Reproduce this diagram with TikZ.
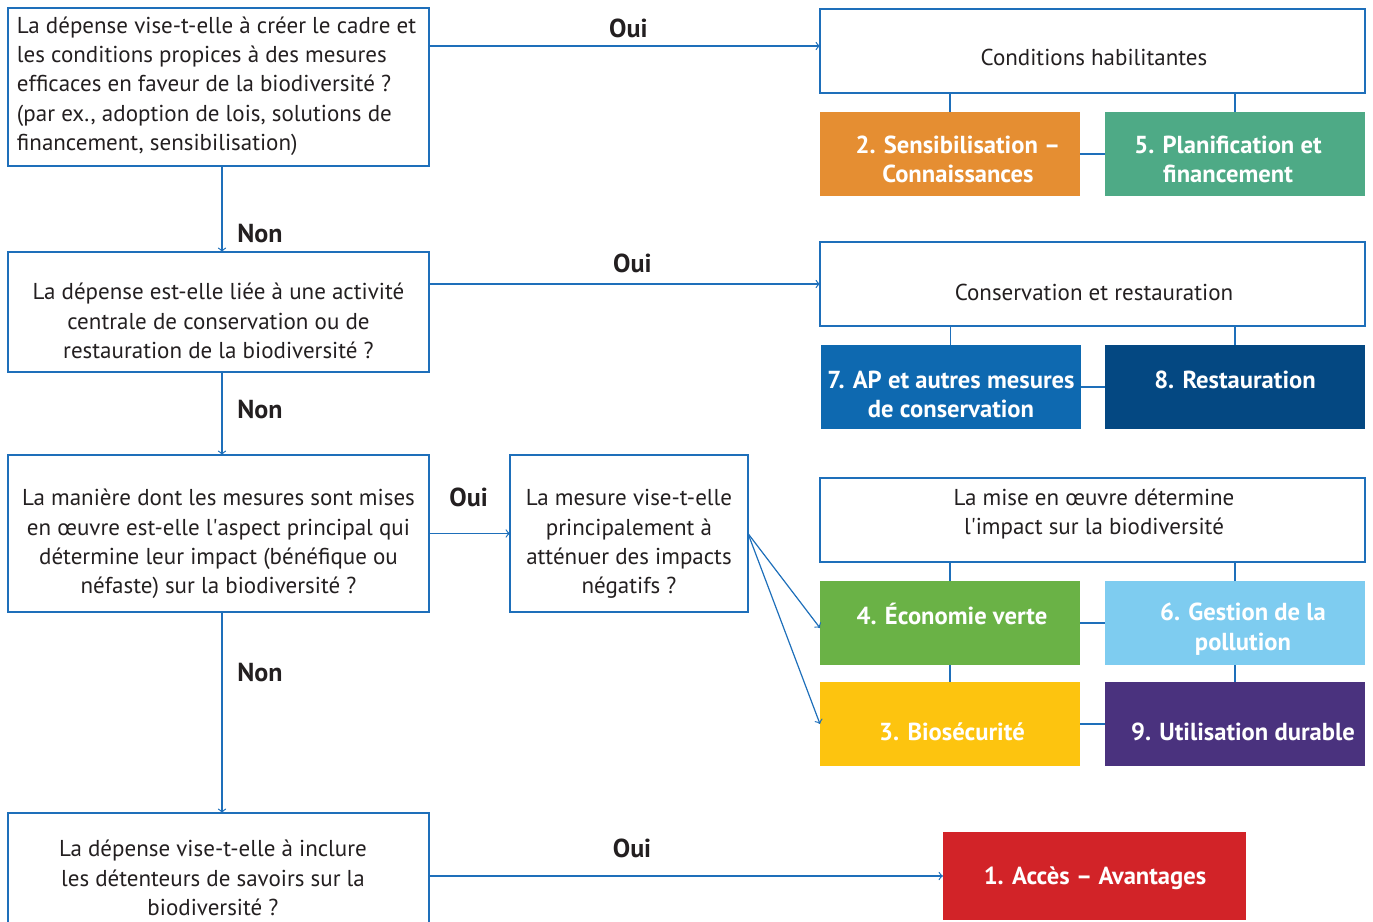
\documentclass[tikz,border=0pt]{standalone}
\usepackage{fontspec}
\setmainfont{PT Sans}
\usetikzlibrary{positioning}

\definecolor{lineblue}{HTML}{1E6FBA}
\definecolor{txtgray}{HTML}{231F20}
\definecolor{corange}{HTML}{E58E32}
\definecolor{cteal}{HTML}{4EAA86}
\definecolor{cblue}{HTML}{0E69B0}
\definecolor{cnavy}{HTML}{044882}
\definecolor{cgreen}{HTML}{6AB246}
\definecolor{csky}{HTML}{7ECCF0}
\definecolor{cyellow}{HTML}{FDC40F}
\definecolor{cpurple}{HTML}{4A327E}
\definecolor{cred}{HTML}{D22328}

\begin{document}
\begin{tikzpicture}
[x=0.5pt,y=-0.5pt,
 every node/.style={inner sep=0pt,outer sep=0pt,text=txtgray},
 ques/.style={rectangle,draw=lineblue,line width=0.7pt,minimum width=210.5pt},
 cat/.style={rectangle,draw=lineblue,line width=0.7pt,minimum width=272.5pt,minimum height=42pt},
 box/.style={rectangle,minimum width=130pt,minimum height=42pt},
 txt/.style={align=center,font=\fontsize{11.5}{14.65}\selectfont},
 btxt/.style={align=center,text=white,font=\fontsize{12.3}{14.7}\selectfont\bfseries},
 ans/.style={font=\fontsize{13}{15}\selectfont\bfseries},
 link/.style={draw=lineblue,line width=0.6pt},
 arr/.style={->,draw=lineblue,line width=0.6pt}]

\useasboundingbox (0,0) rectangle (1373,922);

% questions
\node[ques,minimum height=79pt]   (Q1) at (218.5,87)    {};
\node[ques,minimum height=60pt]   (Q2) at (218.5,312)   {};
\node[ques,minimum height=78.5pt] (Q3) at (218.5,533.5) {};
\node[ques,minimum height=65pt]   (Q4) at (218.5,878)   {};
\node[ques,minimum width=119pt,minimum height=78.5pt] (Q3b) at (629,533.5) {};

\node[txt,align=left,anchor=west] (Q1t) at (17,86)
  {La dépense vise-t-elle à créer le cadre et\\les conditions propices à des mesures\\efficaces en faveur de la biodiversité ?\\(par ex., adoption de lois, solutions de\\financement, sensibilisation)};
\node[txt] (Q2t) at (218.5,321)
  {La dépense est-elle liée à une activité\\centrale de conservation ou de\\restauration de la biodiversité ?};
\node[txt] (Q3t) at (218.5,544)
  {La manière dont les mesures sont mises\\en œuvre est-elle l\textquotesingle aspect principal qui\\détermine leur impact (bénéfique ou\\néfaste) sur la biodiversité ?};
\node[txt] (Q4t) at (213,878)
  {La dépense vise-t-elle à inclure\\les détenteurs de savoirs sur la\\biodiversité ?};
\node[txt] (Q3bt) at (629,544)
  {La mesure vise-t-elle\\principalement à\\atténuer des impacts\\négatifs ?};

% conditions habilitantes
\node[cat] (Chab) at (1092.5,51) {};
\node[box,fill=corange] (K2) at (950,154)  {};
\node[box,fill=cteal]   (K5) at (1235,154) {};
\node[txt]  (Chabt) at (1094,57)    {Conditions habilitantes};
\node[btxt] (K2t)   at (958,159.5)  {2. Sensibilisation –\\Connaissances};
\node[btxt] (K5t)   at (1228,159.5) {5. Planification et\\financement};
\path[link] (K2.north) -- (K2.north |- Chab.south);
\path[link] (K5.north) -- (K5.north |- Chab.south);
\path[link] (K2.east) -- (K5.west);

% conservation et restauration
\node[cat] (Ccons) at (1092.5,284) {};
\node[box,fill=cblue] (K7) at (950.5,387) {};
\node[box,fill=cnavy] (K8) at (1235,387)  {};
\node[txt]  (Cconst) at (1094,292)   {Conservation et restauration};
\node[btxt] (K7t)    at (951,394.5)  {7. AP et autres mesures\\de conservation};
\node[btxt] (K8t)    at (1235,380)   {8. Restauration};
\path[link] (K7.north) -- (K7.north |- Ccons.south);
\path[link] (K8.north) -- (K8.north |- Ccons.south);
\path[link] (K7.east) -- (K8.west);

% mise en oeuvre
\node[cat] (Cimp) at (1092.5,520) {};
\node[box,fill=cgreen]  (K4) at (950,623)  {};
\node[box,fill=csky]    (K6) at (1235,623) {};
\node[box,fill=cyellow] (K3) at (950,724)  {};
\node[box,fill=cpurple] (K9) at (1235,724) {};
\node[txt]  (Cimpt) at (1094,514) {La mise en œuvre détermine\\l\textquotesingle impact sur la biodiversité};
\node[btxt] (K4t)   at (952,614)    {4. Économie verte};
\node[btxt] (K6t)   at (1243,629)   {6. Gestion de la\\pollution};
\node[btxt] (K3t)   at (952,732)    {3. Biosécurité};
\node[btxt] (K9t)   at (1243,732)   {9. Utilisation durable};
\path[link] (K4.north) -- (K4.north |- Cimp.south);
\path[link] (K6.north) -- (K6.north |- Cimp.south);
\path[link] (K4.east) -- (K6.west);
\path[link] (K3.east) -- (K9.west);
\path[link] (K4.south) -- (K3.north);
\path[link] (K6.south) -- (K9.north);

% acces
\node[box,fill=cred,minimum width=151.5pt,minimum height=44pt] (K1) at (1094.5,876) {};
\node[btxt] (K1t) at (1095,878) {1. Accès – Avantages};

% fleches
\path[arr] ([yshift=2.5pt]Q1.east |- Chab.west) -- node[ans,pos=0.51,yshift=9pt] (Oui1) {Oui} ([yshift=2.5pt]Chab.west);
\path[arr] ([xshift=1.75pt]Q1.south) -- node[ans,pos=0.78,xshift=19pt] (Non1) {Non} ([xshift=1.75pt]Q2.north);
\path[arr] (Q2.east |- Ccons.west) -- node[ans,pos=0.52,yshift=10.5pt] (Oui2) {Oui} (Ccons.west);
\path[arr] ([xshift=1.75pt]Q2.south) -- node[ans,pos=0.45,xshift=19pt] (Non2) {Non} ([xshift=1.75pt]Q3.north);
\path[arr] (Q3.east) -- node[ans,pos=0.49,yshift=18pt] (Oui3) {Oui} (Q3b.west);
\path[arr] ([xshift=1.75pt]Q3.south) -- node[ans,pos=0.3,xshift=19pt] (Non3) {Non} ([xshift=1.75pt]Q4.north);
\path[arr] (Q4.east |- K1.west) -- node[ans,pos=0.395,yshift=14pt] (Oui4) {Oui} (K1.west);
\path[arr] (Q3b.east) -- ([yshift=-2.5pt]K4.west);
\path[arr] (Q3b.east) -- (K3.west);

\end{tikzpicture}
\end{document}
